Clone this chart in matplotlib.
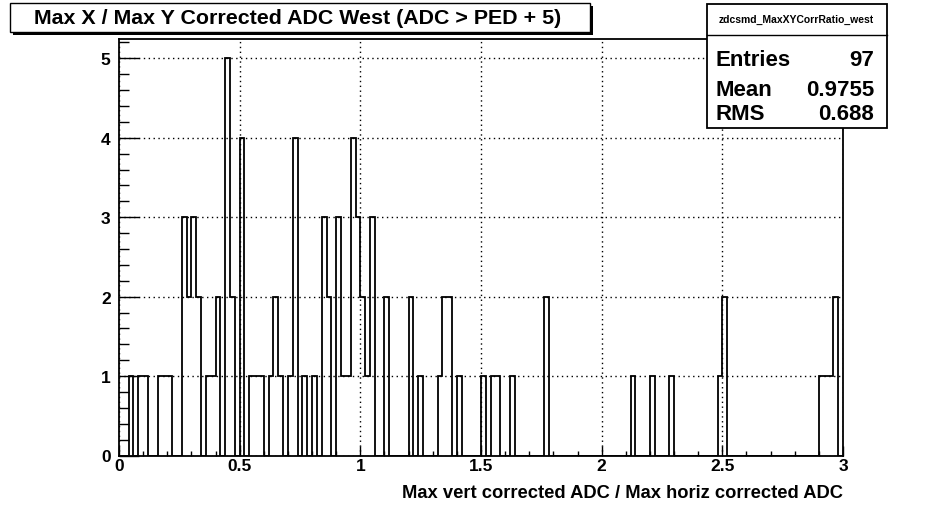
import matplotlib
matplotlib.use('Agg')
import matplotlib.pyplot as plt
import numpy as np
from matplotlib.patches import Rectangle
from matplotlib.ticker import MultipleLocator, FuncFormatter

plt.rcParams['font.family'] = ['Liberation Sans', 'DejaVu Sans']

# ---- data ----
n_bins = 150
x_min, x_max = 0.0, 3.0
bin_centers = [0.05, 0.09, 0.11, 0.17, 0.19, 0.21, 0.27, 0.29, 0.31, 0.33,
               0.37, 0.39, 0.41, 0.45, 0.47, 0.51, 0.55, 0.57, 0.59,
               0.63, 0.65, 0.67, 0.71, 0.73, 0.77, 0.81, 0.85, 0.87,
               0.91, 0.93, 0.95, 0.97, 0.99, 1.01, 1.03, 1.05,
               1.11, 1.21, 1.25, 1.33, 1.35, 1.37, 1.41,
               1.51, 1.55, 1.57, 1.63, 1.77, 2.13, 2.21, 2.29,
               2.49, 2.51, 2.91, 2.93, 2.95, 2.97]
counts = [1, 1, 1, 1, 1, 1, 3, 2, 3, 2,
          1, 1, 2, 5, 2, 4, 1, 1, 1,
          1, 2, 1, 1, 4, 1, 1, 3, 2,
          3, 1, 1, 4, 3, 2, 1, 3,
          2, 2, 1, 1, 2, 2, 1,
          1, 1, 1, 1, 2, 1, 1, 1,
          1, 2, 1, 1, 1, 2]
x_ticks = [0, 0.5, 1, 1.5, 2, 2.5, 3]
y_ticks = [0, 1, 2, 3, 4, 5]
title = "Max X / Max Y Corrected ADC West (ADC > PED + 5)"
x_label = "Max vert corrected ADC / Max horiz corrected ADC"
hist_name = "zdcsmd_MaxXYCorrRatio_west"
stat_names = ["Entries", "Mean", "RMS"]
stat_values = ["97", "0.9755", "0.688"]

W, H = 930, 506
fig = plt.figure(figsize=(W / 100, H / 100), dpi=100)
fig.patch.set_facecolor('white')

def fx(px):
    return px / W

def fy(py):
    return 1 - py / H

left, right, top, bottom = 119, 843, 39.5, 456.5
ax = fig.add_axes([fx(left), fy(bottom), fx(right) - fx(left), fy(top) - fy(bottom)])

edges = np.linspace(x_min, x_max, n_bins + 1)
hist, _ = np.histogram(bin_centers, bins=edges, weights=counts)
ax.stairs(hist, edges, color='black', linewidth=1.3, baseline=0)

ax.set_xlim(x_min, x_max)
ax.set_ylim(0, 5.25)
ax.set_xticks(x_ticks)
ax.set_yticks(y_ticks)
ax.xaxis.set_minor_locator(MultipleLocator(0.1))
ax.yaxis.set_minor_locator(MultipleLocator(0.2))
ax.xaxis.set_major_formatter(FuncFormatter(lambda v, p: '%g' % v))
ax.yaxis.set_major_formatter(FuncFormatter(lambda v, p: '%g' % v))
ax.tick_params(which='both', direction='in', top=False, right=False, color='black')
ax.tick_params(axis='x', which='major', length=7.2, width=1.0, pad=2, labelsize=12.5)
ax.tick_params(axis='x', which='minor', length=3.6, width=1.0)
ax.tick_params(axis='y', which='major', length=14.4, width=1.0, pad=6, labelsize=12.5)
ax.tick_params(axis='y', which='minor', length=7.2, width=1.0)
for lab in ax.get_xticklabels() + ax.get_yticklabels():
    lab.set_fontweight('bold')
ax.grid(True, which='major', color='black', linestyle=(0, (1, 2.5)), linewidth=1.0)
for s in ax.spines.values():
    s.set_linewidth(1.3)
    s.set_color('black')

fig.text(fx(843), fy(494), x_label, ha='right', va='center', fontsize=13.2,
         fontweight='bold')

# title box with shadow
tx0, tx1, ty0, ty1 = 10, 590, 4, 33
fig.patches.append(Rectangle((fx(tx0 + 3), fy(ty1 + 3)), fx(tx1) - fx(tx0), fy(ty0) - fy(ty1),
                             transform=fig.transFigure, facecolor='black', edgecolor='none', zorder=5))
fig.patches.append(Rectangle((fx(tx0), fy(ty1)), fx(tx1) - fx(tx0), fy(ty0) - fy(ty1),
                             transform=fig.transFigure, facecolor='white', edgecolor='black',
                             linewidth=1.0, zorder=6))
fig.text(fx((tx0 + tx1) / 2 - 2), fy((ty0 + ty1) / 2), title, ha='center', va='center',
         fontsize=15.4, fontweight='bold', zorder=7)

# stats box
sx0, sx1, sy0, sy1, sep = 706.5, 886.5, 5, 129, 36
fig.patches.append(Rectangle((fx(sx0), fy(sy1)), fx(sx1) - fx(sx0), fy(sy0) - fy(sy1),
                             transform=fig.transFigure, facecolor='white', edgecolor='black',
                             linewidth=1.3, zorder=6))
fig.lines.append(plt.Line2D([fx(sx0), fx(sx1)], [fy(sep), fy(sep)], transform=fig.transFigure,
                            color='black', linewidth=1.0, zorder=7))
fig.text(fx((sx0 + sx1) / 2), fy(19.5), hist_name, ha='center', va='center', fontsize=7.5,
         fontweight='bold', zorder=8)
row_y = [60, 91, 115]
for name, val, yy in zip(stat_names, stat_values, row_y):
    fig.text(fx(715), fy(yy), name, ha='left', va='center', fontsize=16, fontweight='bold', zorder=8)
    fig.text(fx(874), fy(yy), val, ha='right', va='center', fontsize=16, fontweight='bold', zorder=8)

fig.savefig('out.png', dpi=100, facecolor='white')
